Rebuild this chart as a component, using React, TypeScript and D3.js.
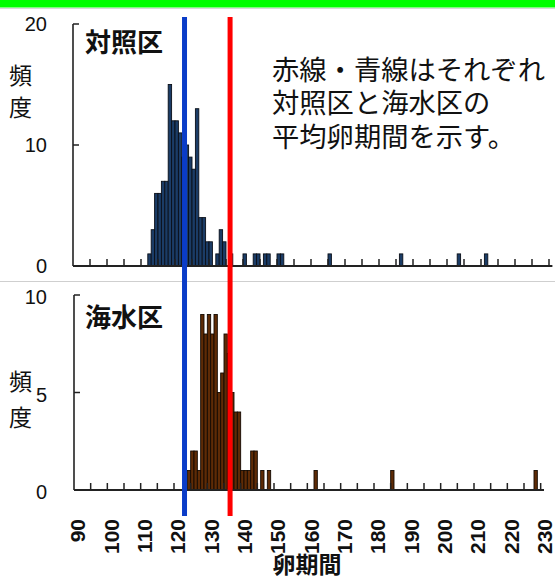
import React from "react";
import * as d3 from "d3";

// 対照区 (control) histogram: [days, count]
const controlDays = [112,113,114,115,116,117,118,119,120,121,122,123,124,125,126,127,128,129,130,132,133,134,136,140,143,144,146,147,150,151,165,186,203,211];
const controlCounts = [1,3,6,6,7,7,15,12,12,11,9,10,9,8,13,4,4,2,2,1,3,2,1,1,1,1,1,1,1,1,1,1,1,1];
// 海水区 (seawater)
const seaDays = [124,125,126,127,128,129,130,131,132,133,134,135,136,137,138,139,140,141,142,143,144,146,148,162,185,228];
const seaCounts = [1,2,2,1,9,8,9,8,9,5,6,8,7,5,4,4,1,1,1,2,2,1,1,1,1,1];

const xLabels = [90,100,110,120,130,140,150,160,170,180,190,200,210,220,230];
const xTickVals = d3.range(95, 231, 5);
const topYTicks = [0, 10, 20];
const botYTicks = [0, 5, 10];
const blueMean = 122.3;
const redMean = 135.7;
const noteLines = ["赤線・青線はそれぞれ", "対照区と海水区の", "平均卵期間を示す。"];

const W = 555, H = 580;
const NUM_FONT = "'Liberation Sans', Arial, sans-serif";
const JP_FONT = "'Noto Sans CJK JP', sans-serif";

export default function App() {
  const xTop = d3.scaleLinear().domain([90, 231]).range([73, 552.4]);
  const xBot = d3.scaleLinear().domain([90, 231]).range([74, 544]);
  const yTop = d3.scaleLinear().domain([0, 20]).range([266, 24]);
  const yBot = d3.scaleLinear().domain([0, 10]).range([490, 295]);
  const axisColor = "#222";

  return (
    <svg width={W} height={H} style={{ position: "absolute", left: 0, top: 0, background: "#fff" }}>
      <rect x={0} y={0} width={W} height={7.5} fill="#00ff00" />
      <line x1={0} x2={W} y1={8.5} y2={8.5} stroke="#d8d8d8" strokeWidth={1} />
      <line x1={0} x2={W} y1={281.5} y2={281.5} stroke="#cfcfcf" strokeWidth={1} />

      {/* Top panel */}
      <g>
        {controlDays.map((d, i) => (
          <rect key={"c" + i} x={xTop(d)} y={yTop(controlCounts[i])}
            width={xTop(d + 1) - xTop(d)} height={yTop(0) - yTop(controlCounts[i])}
            fill="#1b3c66" stroke="#0a0f18" strokeWidth={0.9} />
        ))}
        <line x1={xTop(90)} x2={xTop(231)} y1={yTop(0)} y2={yTop(0)} stroke={axisColor} strokeWidth={2} />
        <line x1={xTop(90)} x2={xTop(90)} y1={yTop(0)} y2={yTop(20)} stroke={axisColor} strokeWidth={1.6} />
        {xTickVals.map(v => (
          <line key={"tt" + v} x1={xTop(v)} x2={xTop(v)} y1={yTop(0)} y2={yTop(0) - 7} stroke={axisColor} strokeWidth={1.5} />
        ))}
        {topYTicks.map(v => (
          <g key={"ty" + v}>
            <line x1={xTop(90)} x2={xTop(90) + 6} y1={yTop(v)} y2={yTop(v)} stroke={axisColor} strokeWidth={1.5} />
            <text x={47} y={yTop(v)} dy="0.36em" textAnchor="end" fontFamily={NUM_FONT} fontSize={20} fill="#111">{v}</text>
          </g>
        ))}
        <text x={85} y={43} dy="0.36em" fontFamily={JP_FONT} fontWeight="bold" fontSize={26} fill="#111">対照区</text>
        <text x={20.5} y={76} dy="0.36em" textAnchor="middle" fontFamily={JP_FONT} fontSize={23} fill="#111">頻</text>
        <text x={20.5} y={108} dy="0.36em" textAnchor="middle" fontFamily={JP_FONT} fontSize={23} fill="#111">度</text>
        {noteLines.map((t, i) => (
          <text key={"n" + i} x={272} y={70 + i * 33.5} dy="0.36em" fontFamily={JP_FONT} fontSize={27.3} fill="#111">{t}</text>
        ))}
      </g>

      {/* Bottom panel */}
      <g>
        {seaDays.map((d, i) => (
          <rect key={"s" + i} x={xBot(d)} y={yBot(seaCounts[i])}
            width={xBot(d + 1) - xBot(d)} height={yBot(0) - yBot(seaCounts[i])}
            fill="#5e2b06" stroke="#140a02" strokeWidth={0.9} />
        ))}
        <line x1={xBot(90)} x2={xBot(231)} y1={yBot(0)} y2={yBot(0)} stroke={axisColor} strokeWidth={2} />
        <line x1={xBot(90)} x2={xBot(90)} y1={yBot(0)} y2={yBot(10)} stroke={axisColor} strokeWidth={1.6} />
        {xTickVals.map(v => (
          <line key={"bt" + v} x1={xBot(v)} x2={xBot(v)} y1={yBot(0)} y2={yBot(0) - 7} stroke={axisColor} strokeWidth={1.5} />
        ))}
        {botYTicks.map(v => (
          <g key={"by" + v}>
            <line x1={xBot(90)} x2={xBot(90) + 6} y1={yBot(v)} y2={yBot(v)} stroke={axisColor} strokeWidth={1.5} />
            <text x={47} y={yBot(v) + 2} dy="0.36em" textAnchor="end" fontFamily={NUM_FONT} fontSize={20} fill="#111">{v}</text>
          </g>
        ))}
        <text x={85} y={318} dy="0.36em" fontFamily={JP_FONT} fontWeight="bold" fontSize={26} fill="#111">海水区</text>
        <text x={20.5} y={382} dy="0.36em" textAnchor="middle" fontFamily={JP_FONT} fontSize={23} fill="#111">頻</text>
        <text x={20.5} y={418} dy="0.36em" textAnchor="middle" fontFamily={JP_FONT} fontSize={23} fill="#111">度</text>
        {xLabels.map(v => (
          <text key={"xl" + v} transform={`translate(${xBot(v + 0.5) + 2},519) rotate(-90)`} dy="0.36em"
            textAnchor="end" fontFamily={NUM_FONT} fontWeight="bold" fontSize={21} fill="#111">{v}</text>
        ))}
        <text x={307} y={565} dy="0.36em" textAnchor="middle" fontFamily={JP_FONT} fontWeight="bold" fontSize={23} fill="#111">卵期間</text>
      </g>

      {/* Mean lines */}
      <line x1={xTop(blueMean + 0.5)} x2={xTop(blueMean + 0.5)} y1={17} y2={516} stroke="#0a3cc8" strokeWidth={5} />
      <line x1={xTop(redMean + 0.5)} x2={xTop(redMean + 0.5)} y1={17} y2={516} stroke="#ff0000" strokeWidth={5} />
    </svg>
  );
}
